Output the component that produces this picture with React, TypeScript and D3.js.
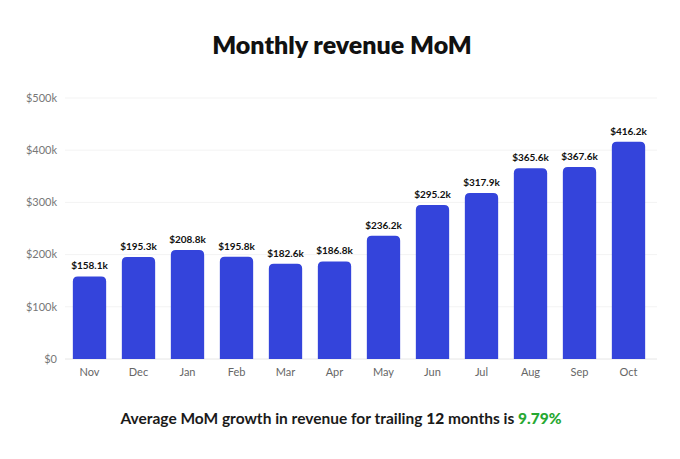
import React from "react";
import * as d3 from "d3";

const months = ["Nov", "Dec", "Jan", "Feb", "Mar", "Apr", "May", "Jun", "Jul", "Aug", "Sep", "Oct"];
const revenue = [158.1, 195.3, 208.8, 195.8, 182.6, 186.8, 236.2, 295.2, 317.9, 365.6, 367.6, 416.2];
const yTicks = [0, 100, 200, 300, 400, 500];
const titleText = "Monthly revenue MoM";
const growthText = "9.79%";
const trailingMonths = "12";

const W = 680;
const H = 459;
const FONT = "Lato, 'Noto Sans', sans-serif";

function topRoundedRect(x: number, y: number, w: number, h: number, r: number) {
  const rr = Math.min(r, h, w / 2);
  return `M${x},${y + h}V${y + rr}Q${x},${y} ${x + rr},${y}H${x + w - rr}Q${x + w},${y} ${x + w},${y + rr}V${y + h}Z`;
}

export default function App() {
  const x = d3.scaleBand<string>().domain(months).range([65, 653]).paddingInner(0.32).paddingOuter(0.16);
  const y = d3.scaleLinear().domain([0, 500]).range([359, 98]);

  return (
    <svg width={W} height={H} style={{ display: "block", position: "absolute", left: 0, top: 0 }}>
      <rect width={W} height={H} fill="#fff" />
      <text x={342} y={54} textAnchor="middle" fontFamily={FONT} fontWeight={800} fontSize={25} fill="#111">
        {titleText}
      </text>
      {yTicks.map((t) => (
        <g key={t}>
          <line x1={65} x2={657} y1={y(t)} y2={y(t)} stroke={t === 0 ? "#e6e6e6" : "#f3f3f3"} strokeWidth={1} />
          <text x={57} y={y(t)} dy="0.35em" textAnchor="end" fontFamily={FONT} fontSize={11} fill="#777">
            {t === 0 ? "$0" : `$${t}k`}
          </text>
        </g>
      ))}
      {months.map((m, i) => {
        const bx = x(m)!;
        const bw = x.bandwidth();
        const by = y(revenue[i]);
        return (
          <g key={m}>
            <path d={topRoundedRect(bx, by, bw, y(0) - by, 5)} fill="#3444db" />
            <text x={bx + bw / 2} y={by - 7} textAnchor="middle" fontFamily={FONT} fontWeight={700} fontSize={10} fill="#111">
              {`$${revenue[i].toFixed(1)}k`}
            </text>
            <text x={bx + bw / 2} y={376} textAnchor="middle" fontFamily={FONT} fontSize={11} fill="#666">
              {m}
            </text>
          </g>
        );
      })}
      <text x={341} y={424} textAnchor="middle" fontFamily={FONT} fontWeight={700} fontSize={15.5} fill="#1a1a1a">
        <tspan>Average MoM growth in revenue for trailing </tspan>
        <tspan fontWeight={900}>{trailingMonths}</tspan>
        <tspan> months is </tspan>
        <tspan fontWeight={900} fill="#27a831">{growthText}</tspan>
      </text>
    </svg>
  );
}
